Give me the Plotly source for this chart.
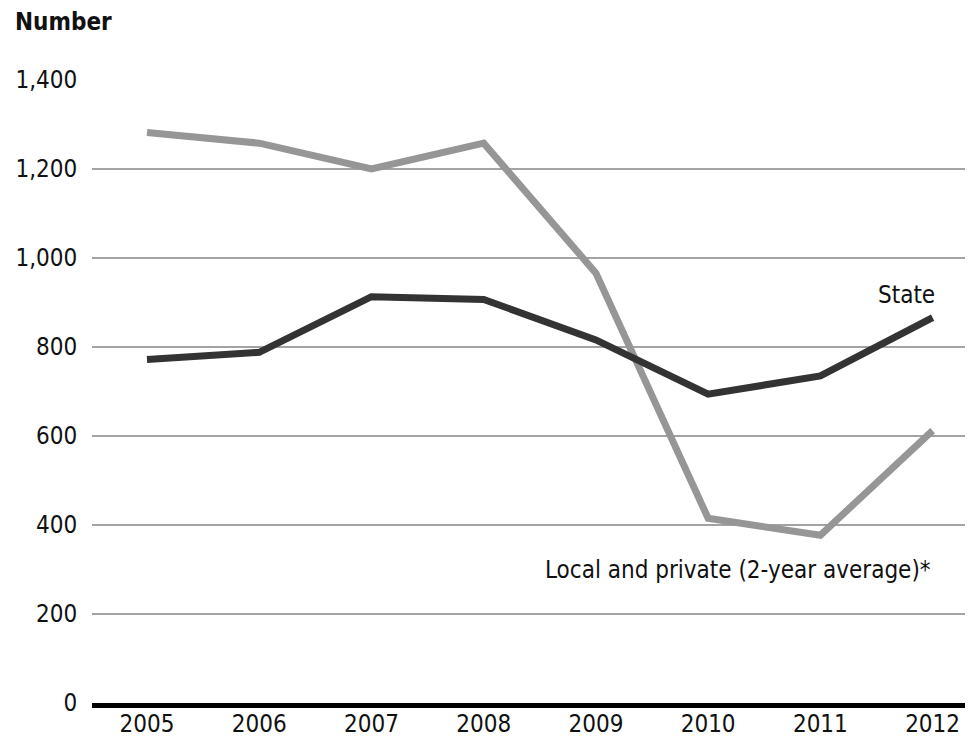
import plotly.graph_objects as go

years = [2005, 2006, 2007, 2008, 2009, 2010, 2011, 2012]
state = [772, 788, 913, 907, 816, 694, 735, 866]
local_private = [1282, 1258, 1200, 1258, 966, 415, 377, 612]
y_ticks = [0, 200, 400, 600, 800, 1000, 1200, 1400]
y_tick_labels = ["0", "200", "400", "600", "800", "1,000", "1,200", "1,400"]

FONT = "DejaVu Sans Condensed, Liberation Sans Narrow, Arial Narrow, sans-serif"

# the page body has an 8px margin, so the figure is laid out 8px up/left
W, H = 965, 735
L, R, T, B = 84, 0, 72, 40
pw = W - L - R
ph = H - T - B

fig = go.Figure()
fig.add_trace(go.Scatter(x=years, y=local_private, mode="lines",
                         line=dict(color="#969696", width=7), name="Local and private"))
fig.add_trace(go.Scatter(x=years, y=state, mode="lines",
                         line=dict(color="#333333", width=7), name="State"))

fig.add_annotation(x=2012, y=917, xref="x", yref="y", text="State", showarrow=False,
                   xanchor="right", yanchor="middle", xshift=4,
                   font=dict(family=FONT, size=24, color="#111111"))
fig.add_annotation(x=2012, y=299, xref="x", yref="y", text="Local and private (2-year average)*",
                   showarrow=False, xanchor="right", yanchor="middle",
                   font=dict(family=FONT, size=24, color="#111111"))
fig.add_annotation(x=(5 - L) / pw, y=1 + (T - 14) / ph, xref="paper", yref="paper",
                   text="<b>Number</b>", showarrow=False, xanchor="left", yanchor="middle",
                   font=dict(family=FONT, size=24, color="#111111"))

fig.update_layout(
    width=W, height=H,
    margin=dict(l=L, r=R, t=T, b=B),
    paper_bgcolor="white", plot_bgcolor="white",
    showlegend=False,
    font=dict(family=FONT, size=24, color="#111111"),
    xaxis=dict(range=[2004.51, 2012.36], tickmode="array", tickvals=years,
               ticktext=[str(y) for y in years], showgrid=False, zeroline=False,
               showline=True, linecolor="black", linewidth=5, automargin=False,
               ticks="", ticklabelstandoff=-5,
               tickfont=dict(family=FONT, size=24, color="#111111")),
    yaxis=dict(range=[0, 1400], tickmode="array", tickvals=y_ticks, ticktext=y_tick_labels,
               showgrid=True, gridcolor="#a3a3a3", gridwidth=2, zeroline=False,
               showline=False, ticks="outside", ticklen=9, tickcolor="rgba(0,0,0,0)",
               automargin=False,
               tickfont=dict(family=FONT, size=24, color="#111111")),
)

fig.write_html("out.html")
